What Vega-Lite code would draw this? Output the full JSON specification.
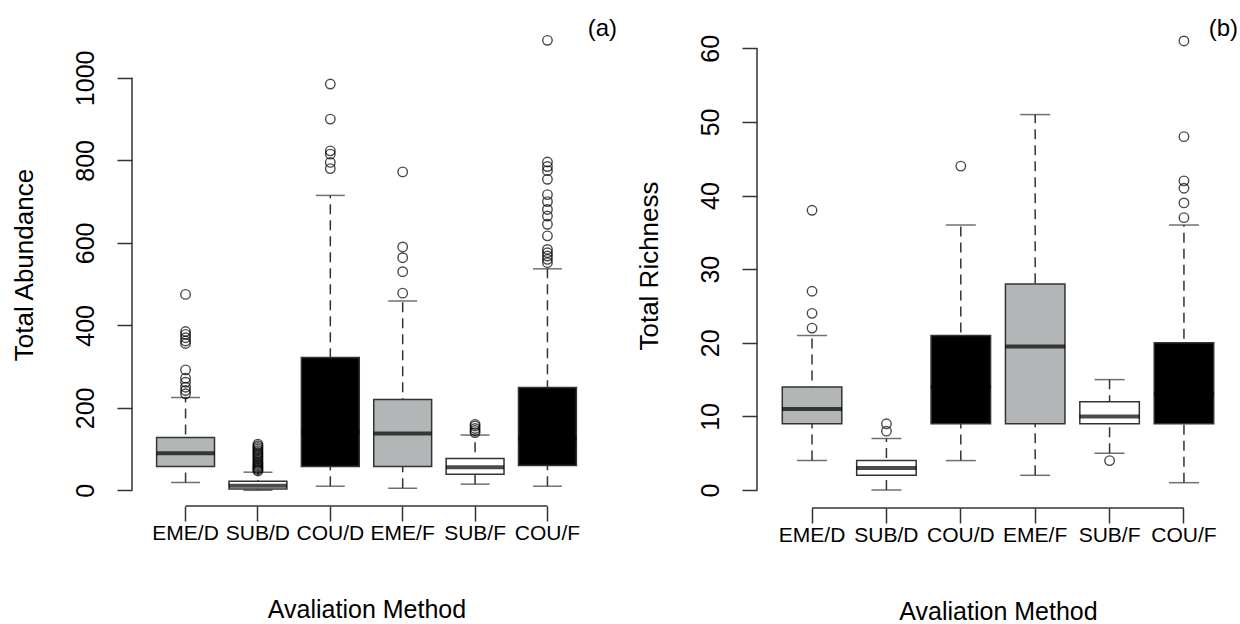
{
  "$schema": "https://vega.github.io/schema/vega-lite/v6.json",
  "background": "white",
  "padding": {"left": 11, "top": 17, "right": 0, "bottom": 0},
  "spacing": 18,
  "config": {
    "view": {"stroke": null},
    "axis": {
      "labelFont": "Liberation Sans", "titleFont": "Liberation Sans",
      "labelColor": "black", "titleColor": "black",
      "tickColor": "#333333", "tickWidth": 1.5, "tickSize": 15,
      "grid": false, "domain": false, "titleFontWeight": "normal"
    },
    "axisX": {"labelFontSize": 21, "labelPadding": 1, "titleFontSize": 25, "titlePadding": 54, "labelAngle": 0},
    "axisY": {"labelFontSize": 25, "labelAngle": -90, "labelAlign": "center", "labelBaseline": "bottom", "labelPadding": 19, "titleFontSize": 26, "titlePadding": 36, "format": "d"}
  },
  "datasets": {
    "a_box": [
      {"cat": "EME/D", "lower": 19, "q1": 58, "median": 90, "q3": 128, "upper": 225},
      {"cat": "SUB/D", "lower": 0, "q1": 3, "median": 11, "q3": 22, "upper": 44},
      {"cat": "COU/D", "lower": 10, "q1": 58, "median": 140, "q3": 322, "upper": 715},
      {"cat": "EME/F", "lower": 5, "q1": 58, "median": 138, "q3": 220, "upper": 459},
      {"cat": "SUB/F", "lower": 15, "q1": 39, "median": 56, "q3": 77, "upper": 134},
      {"cat": "COU/F", "lower": 10, "q1": 60, "median": 125, "q3": 249, "upper": 537}
    ],
    "a_out": [
      {"cat": "EME/D", "value": 475}, {"cat": "EME/D", "value": 385}, {"cat": "EME/D", "value": 378}, {"cat": "EME/D", "value": 370}, {"cat": "EME/D", "value": 362}, {"cat": "EME/D", "value": 356}, {"cat": "EME/D", "value": 292}, {"cat": "EME/D", "value": 272}, {"cat": "EME/D", "value": 262}, {"cat": "EME/D", "value": 250}, {"cat": "EME/D", "value": 242}, {"cat": "EME/D", "value": 234},
      {"cat": "SUB/D", "value": 47}, {"cat": "SUB/D", "value": 50}, {"cat": "SUB/D", "value": 53}, {"cat": "SUB/D", "value": 56}, {"cat": "SUB/D", "value": 59}, {"cat": "SUB/D", "value": 62}, {"cat": "SUB/D", "value": 65}, {"cat": "SUB/D", "value": 68}, {"cat": "SUB/D", "value": 72}, {"cat": "SUB/D", "value": 76}, {"cat": "SUB/D", "value": 80}, {"cat": "SUB/D", "value": 84}, {"cat": "SUB/D", "value": 88}, {"cat": "SUB/D", "value": 92}, {"cat": "SUB/D", "value": 96}, {"cat": "SUB/D", "value": 100}, {"cat": "SUB/D", "value": 104}, {"cat": "SUB/D", "value": 108}, {"cat": "SUB/D", "value": 112},
      {"cat": "COU/D", "value": 985}, {"cat": "COU/D", "value": 900}, {"cat": "COU/D", "value": 823}, {"cat": "COU/D", "value": 815}, {"cat": "COU/D", "value": 795}, {"cat": "COU/D", "value": 780},
      {"cat": "EME/F", "value": 772}, {"cat": "EME/F", "value": 590}, {"cat": "EME/F", "value": 564}, {"cat": "EME/F", "value": 530}, {"cat": "EME/F", "value": 478},
      {"cat": "SUB/F", "value": 140}, {"cat": "SUB/F", "value": 145}, {"cat": "SUB/F", "value": 150}, {"cat": "SUB/F", "value": 156}, {"cat": "SUB/F", "value": 160},
      {"cat": "COU/F", "value": 1091}, {"cat": "COU/F", "value": 796}, {"cat": "COU/F", "value": 785}, {"cat": "COU/F", "value": 775}, {"cat": "COU/F", "value": 754}, {"cat": "COU/F", "value": 717}, {"cat": "COU/F", "value": 700}, {"cat": "COU/F", "value": 681}, {"cat": "COU/F", "value": 665}, {"cat": "COU/F", "value": 645}, {"cat": "COU/F", "value": 617}, {"cat": "COU/F", "value": 584}, {"cat": "COU/F", "value": 576}, {"cat": "COU/F", "value": 568}, {"cat": "COU/F", "value": 560}, {"cat": "COU/F", "value": 552}
    ],
    "b_box": [
      {"cat": "EME/D", "lower": 4, "q1": 9, "median": 11, "q3": 14, "upper": 21},
      {"cat": "SUB/D", "lower": 0, "q1": 2, "median": 3, "q3": 4, "upper": 7},
      {"cat": "COU/D", "lower": 4, "q1": 9, "median": 14, "q3": 21, "upper": 36},
      {"cat": "EME/F", "lower": 2, "q1": 9, "median": 19.5, "q3": 28, "upper": 51},
      {"cat": "SUB/F", "lower": 5, "q1": 9, "median": 10, "q3": 12, "upper": 15},
      {"cat": "COU/F", "lower": 1, "q1": 9, "median": 13, "q3": 20, "upper": 36}
    ],
    "b_out": [
      {"cat": "EME/D", "value": 38}, {"cat": "EME/D", "value": 27}, {"cat": "EME/D", "value": 24}, {"cat": "EME/D", "value": 22},
      {"cat": "SUB/D", "value": 9}, {"cat": "SUB/D", "value": 8},
      {"cat": "COU/D", "value": 44},
      {"cat": "SUB/F", "value": 4},
      {"cat": "COU/F", "value": 61}, {"cat": "COU/F", "value": 48}, {"cat": "COU/F", "value": 42}, {"cat": "COU/F", "value": 41}, {"cat": "COU/F", "value": 39}, {"cat": "COU/F", "value": 37}
    ]
  },
  "hconcat": [
    {
      "width": 469,
      "height": 483,
      "title": {"text": "(a)", "anchor": "end", "frame": "group", "offset": -18, "dx": 16, "fontSize": 24, "font": "Liberation Sans", "fontWeight": "normal", "color": "black"},
      "data": {"name": "a_box"},
      "encoding": {
        "x": {"field": "cat", "type": "nominal", "sort": null,
              "scale": {"domain": ["EME/D", "SUB/D", "COU/D", "EME/F", "SUB/F", "COU/F"], "paddingInner": 0.2, "paddingOuter": 0.34},
              "axis": {"title": "Avaliation Method"}}
      },
      "layer": [
        {"mark": {"type": "rule", "strokeDash": [10, 6], "strokeWidth": 1.5, "color": "#333333"},
         "encoding": {"y": {"field": "lower", "type": "quantitative", "scale": {"domain": [-38, 1133], "nice": false, "zero": false}, "axis": {"values": [0, 200, 400, 600, 800, 1000], "title": "Total Abundance"}}, "y2": {"field": "upper"}}},
        {"mark": {"type": "tick", "size": 29, "thickness": 1.5, "color": "#333333"},
         "encoding": {"y": {"field": "lower", "type": "quantitative"}}},
        {"mark": {"type": "tick", "size": 29, "thickness": 1.5, "color": "#333333"},
         "encoding": {"y": {"field": "upper", "type": "quantitative"}}},
        {"mark": {"type": "bar", "stroke": "#333333", "strokeWidth": 1.5},
         "encoding": {"y": {"field": "q1", "type": "quantitative"}, "y2": {"field": "q3"},
                      "color": {"field": "cat", "type": "nominal", "scale": {"domain": ["EME/D", "SUB/D", "COU/D", "EME/F", "SUB/F", "COU/F"], "range": ["#b3b6b6", "#ffffff", "#000000", "#b3b6b6", "#ffffff", "#000000"]}, "legend": null}}},
        {"mark": {"type": "tick", "size": 58, "thickness": 4, "color": "black"},
         "encoding": {"y": {"field": "median", "type": "quantitative"}}},
        {"data": {"name": "a_out"},
         "mark": {"type": "point", "shape": "circle", "filled": false, "size": 90, "strokeWidth": 1.4, "color": "black"},
         "encoding": {"y": {"field": "value", "type": "quantitative"}}},
        {"data": {"values": [{}]},
         "mark": {"type": "rule", "strokeWidth": 1.5, "color": "#333333"},
         "encoding": {"x": {"datum": "EME/D", "type": "nominal"}, "x2": {"datum": "COU/F"}, "y": {"datum": -38, "type": "quantitative"}}},
        {"data": {"values": [{}]},
         "mark": {"type": "rule", "strokeWidth": 1.5, "color": "#333333"},
         "encoding": {"x": {"value": 0}, "y": {"datum": 0, "type": "quantitative"}, "y2": {"datum": 1000}}}
      ]
    },
    {
      "width": 482,
      "height": 485,
      "title": {"text": "(b)", "anchor": "end", "frame": "group", "offset": -18, "dx": -1, "fontSize": 24, "font": "Liberation Sans", "fontWeight": "normal", "color": "black"},
      "data": {"name": "b_box"},
      "encoding": {
        "x": {"field": "cat", "type": "nominal", "sort": null,
              "scale": {"domain": ["EME/D", "SUB/D", "COU/D", "EME/F", "SUB/F", "COU/F"], "paddingInner": 0.2, "paddingOuter": 0.34},
              "axis": {"title": "Avaliation Method"}}
      },
      "layer": [
        {"mark": {"type": "rule", "strokeDash": [10, 6], "strokeWidth": 1.5, "color": "#333333"},
         "encoding": {"y": {"field": "lower", "type": "quantitative", "scale": {"domain": [-2.44, 63.44], "nice": false, "zero": false}, "axis": {"values": [0, 10, 20, 30, 40, 50, 60], "title": "Total Richness"}}, "y2": {"field": "upper"}}},
        {"mark": {"type": "tick", "size": 30, "thickness": 1.5, "color": "#333333"},
         "encoding": {"y": {"field": "lower", "type": "quantitative"}}},
        {"mark": {"type": "tick", "size": 30, "thickness": 1.5, "color": "#333333"},
         "encoding": {"y": {"field": "upper", "type": "quantitative"}}},
        {"mark": {"type": "bar", "stroke": "#333333", "strokeWidth": 1.5},
         "encoding": {"y": {"field": "q1", "type": "quantitative"}, "y2": {"field": "q3"},
                      "color": {"field": "cat", "type": "nominal", "scale": {"domain": ["EME/D", "SUB/D", "COU/D", "EME/F", "SUB/F", "COU/F"], "range": ["#b3b6b6", "#ffffff", "#000000", "#b3b6b6", "#ffffff", "#000000"]}, "legend": null}}},
        {"mark": {"type": "tick", "size": 60, "thickness": 4, "color": "black"},
         "encoding": {"y": {"field": "median", "type": "quantitative"}}},
        {"data": {"name": "b_out"},
         "mark": {"type": "point", "shape": "circle", "filled": false, "size": 90, "strokeWidth": 1.4, "color": "black"},
         "encoding": {"y": {"field": "value", "type": "quantitative"}}},
        {"data": {"values": [{}]},
         "mark": {"type": "rule", "strokeWidth": 1.5, "color": "#333333"},
         "encoding": {"x": {"datum": "EME/D", "type": "nominal"}, "x2": {"datum": "COU/F"}, "y": {"datum": -2.44, "type": "quantitative"}}},
        {"data": {"values": [{}]},
         "mark": {"type": "rule", "strokeWidth": 1.5, "color": "#333333"},
         "encoding": {"x": {"value": 0}, "y": {"datum": 0, "type": "quantitative"}, "y2": {"datum": 60}}}
      ]
    }
  ]
}
